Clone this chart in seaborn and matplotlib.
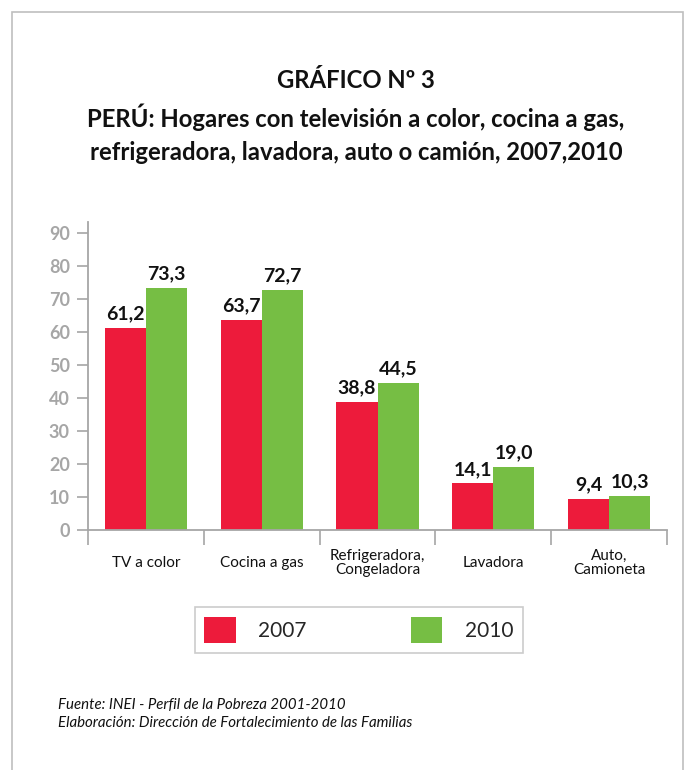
import pandas as pd
import seaborn as sns
from matplotlib import pyplot as plt
from matplotlib.patches import Rectangle

categorias = ["TV a color", "Cocina a gas", "Refrigeradora,\nCongeladora", "Lavadora", "Auto,\nCamioneta"]
anios = ["2007", "2010"]
valores_2007 = [61.2, 63.7, 38.8, 14.1, 9.4]
valores_2010 = [73.3, 72.7, 44.5, 19.0, 10.3]
y_ticks = [0, 10, 20, 30, 40, 50, 60, 70, 80, 90]

titulo = ("GRÁFICO Nº 3\nPERÚ: Hogares con televisión a color, cocina a gas,\n"
          "refrigeradora, lavadora, auto o camión, 2007,2010")
fuente = ("Fuente: INEI - Perfil de la Pobreza 2001-2010\n"
          "Elaboración: Dirección de Fortalecimiento de las Familias")

colores = {"2007": "#ED1B3B", "2010": "#76BE44"}
gris = "#A6A6A6"

df = pd.DataFrame({
    "categoria": categorias * 2,
    "anio": [anios[0]] * len(categorias) + [anios[1]] * len(categorias),
    "valor": valores_2007 + valores_2010,
})

sns.set_style("white")
plt.rcParams["font.family"] = ["Lato", "DejaVu Sans"]

fig = plt.figure(figsize=(6.89, 7.70), dpi=100)
ax = fig.add_axes([88 / 689, 1 - 530 / 770, (667 - 88) / 689, (530 - 222) / 770])

sns.barplot(data=df, x="categoria", y="valor", hue="anio", palette=colores,
            width=0.71, gap=0, saturation=1, linewidth=0, ax=ax, legend=True)

for cont in ax.containers:
    ax.bar_label(cont, labels=[f"{v:.1f}".replace(".", ",") for v in cont.datavalues],
                 padding=4, fontsize=14, fontweight="bold", color="#111111")

ax.set_xlim(-0.5, len(categorias) - 0.5)
ax.set_ylim(0, 93.3)
ax.set_yticks(y_ticks)
ax.set_yticklabels([str(t) for t in y_ticks], fontsize=13, fontweight="bold", color=gris)
ax.tick_params(axis="y", left=True, length=8, width=1.2, color=gris, pad=5)

ax.set_xticks(range(len(categorias)))
ax.set_xticklabels(categorias, fontsize=11, color="#111111", va="center", linespacing=1.0)
ax.tick_params(axis="x", which="major", bottom=False, pad=20)
ax.set_xticks([i - 0.5 for i in range(len(categorias) + 1)], minor=True)
ax.tick_params(axis="x", which="minor", bottom=True, length=11, width=1.2, color=gris)

ax.set_xlabel("")
ax.set_ylabel("")
for side in ["top", "right"]:
    ax.spines[side].set_visible(False)
for side in ["left", "bottom"]:
    ax.spines[side].set_color(gris)
    ax.spines[side].set_linewidth(1.3)

handles, labels = ax.get_legend_handles_labels()
ax.legend_.remove()
leg = fig.legend(handles, labels, loc="center", bbox_to_anchor=(359 / 689, 1 - 630 / 770),
                 ncol=2, frameon=True, fancybox=False, fontsize=15, handlelength=1.5,
                 handleheight=1.6, columnspacing=5.0, handletextpad=1.1,
                 borderpad=0.45, edgecolor="#BFBFBF")
leg.get_frame().set_linewidth(1.2)

fig.text(356 / 689, 1 - 69 / 770, titulo, ha="center", va="top", fontsize=17.2,
         fontweight="bold", linespacing=1.5, color="#111111")
fig.text(58 / 689, 1 - 698 / 770, fuente, ha="left", va="top", fontsize=10.8,
         style="italic", linespacing=1.35, color="#111111")

fig.patches.append(Rectangle((12 / 689, -0.05), (683 - 12) / 689, 1.05 - 12 / 770,
                             transform=fig.transFigure, fill=False,
                             edgecolor="#BFBFBF", linewidth=1.2))

fig.savefig("out.png", dpi=100)
